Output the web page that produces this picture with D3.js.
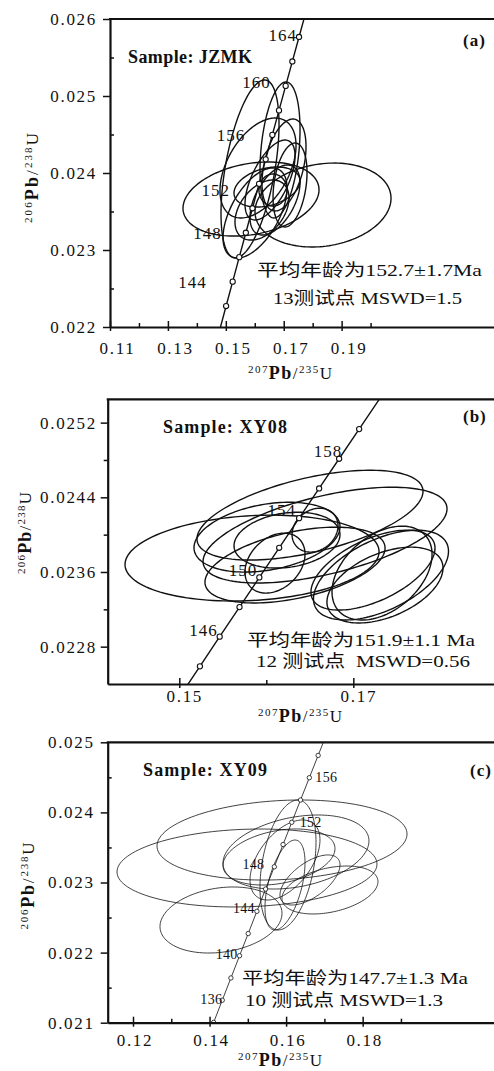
<!DOCTYPE html>
<html lang="zh">
<head>
<meta charset="utf-8">
<script src="https://d3js.org/d3.v7.min.js"></script>
<style>
body { margin: 0; background: #fff; }
svg text { font-family: "Liberation Serif", "DejaVu Serif", serif; fill: #111; }
.cn { font-family: "Liberation Serif", "Noto Sans CJK SC", serif; white-space: pre; }
.ell { fill: none; stroke: #111; }
.conc { fill: none; stroke: #111; }
.mk { fill: #fff; stroke: #111; }
</style>
</head>
<body>
<script>
// concordia, every 2 Ma (207Pb/235U, 206Pb/238U)
var concAge = [130,132,134,136,138,140,142,144,146,148,150,152,154,156,158,160,162,164,166,168,170];
var concX = [0.13659,0.13883,0.14107,0.14332,0.14558,0.14784,0.15010,0.15237,0.15464,0.15692,0.15920,
             0.16148,0.16377,0.16607,0.16837,0.17067,0.17298,0.17529,0.17761,0.17993,0.18226];
var concY = [0.020371,0.020688,0.021004,0.021321,0.021638,0.021955,0.022272,0.022589,0.022907,0.023224,0.023542,
             0.023859,0.024177,0.024495,0.024813,0.025131,0.025449,0.025767,0.026085,0.026404,0.026722];

// spot ellipses: [207/235, half-width, 206/238, half-height, rho]
var ellA = [
 [0.15870,0.02349,0.023662,0.000481,0.25],
 [0.18357,0.02349,0.023584,0.000545,0.16],
 [0.15836,0.01002,0.024052,0.001156,0.50],
 [0.16872,0.00691,0.024299,0.000883,0.30],
 [0.16112,0.01313,0.024065,0.000649,0.45],
 [0.17010,0.00760,0.024104,0.000597,0.40],
 [0.17218,0.00587,0.023844,0.000545,0.30],
 [0.16009,0.01105,0.023481,0.000584,0.55],
 [0.16250,0.00933,0.023519,0.000390,0.40],
 [0.16630,0.00484,0.023779,0.000208,0.00],
 [0.16699,0.00864,0.023649,0.000455,0.50],
 [0.16423,0.01140,0.023818,0.000260,0.30],
 [0.16527,0.00864,0.023909,0.000519,0.60]
];
var ellB = [
 [0.15836,0.01460,0.023749,0.000460,0.15],
 [0.16502,0.01299,0.024209,0.000481,0.53],
 [0.16675,0.01402,0.023995,0.000513,0.55],
 [0.16008,0.00839,0.023973,0.000374,0.30],
 [0.16238,0.00609,0.023941,0.000299,0.20],
 [0.16560,0.00264,0.024048,0.000235,0.20],
 [0.16330,0.01035,0.023674,0.000406,0.45],
 [0.16100,0.00345,0.023695,0.000321,0.30],
 [0.17318,0.00776,0.023567,0.000481,0.53],
 [0.17330,0.00575,0.023588,0.000503,0.40],
 [0.17226,0.00713,0.023620,0.000428,0.55],
 [0.17364,0.00667,0.023460,0.000406,0.45]
];
var ellC = [
 [0.15893,0.03266,0.023606,0.000571,0.15],
 [0.14978,0.03396,0.023207,0.000556,0.10],
 [0.16258,0.01907,0.023435,0.000528,0.30],
 [0.14299,0.01594,0.022465,0.000471,0.20],
 [0.16049,0.00732,0.023250,0.000927,0.35],
 [0.15971,0.00523,0.022964,0.000642,0.50],
 [0.16624,0.00784,0.023036,0.000357,0.60],
 [0.17146,0.01254,0.022893,0.000342,0.35],
 [0.15814,0.01463,0.023364,0.000400,0.30],
 [0.15971,0.00914,0.023321,0.000571,0.50]
];

var markA = [142,144,146,148,150,152,154,156,158,160,162,164];
var markB = [144,146,148,150,152,154,156,158,160];
var markC = [134,136,138,140,142,144,146,148,150,152,154,156,158];
var labA = [164,160,156,152,148,144];
var labB = [158,154,150,146];
var labC = [156,152,148,144,140,136];

var xDomA = [0.11,0.2447],    yDomA = [0.022,0.026];
var xDomB = [0.14177,0.18686], yDomB = [0.0224,0.02545];
var xDomC = [0.11339,0.21588], yDomC = [0.021,0.025];

var xTickA = [0.11,0.13,0.15,0.17,0.19], xMinA = [0.12,0.14,0.16,0.18,0.20];
var yTickA = [0.022,0.023,0.024,0.025,0.026], yMinA = [0.0225,0.0235,0.0245,0.0255];
var xTickB = [0.15,0.17], xMinB = [0.16];
var yTickB = [0.0228,0.0236,0.0244,0.0252], yMinB = [0.0232,0.0240,0.0248];
var xTickC = [0.12,0.14,0.16,0.18], xMinC = [0.13,0.15,0.17,0.19];
var yTickC = [0.021,0.022,0.023,0.024,0.025], yMinC = [0.0215,0.0225,0.0235,0.0245];

var sampleNames = ["Sample: JZMK","Sample: XY08","Sample: XY09"];
var ageText = ["平均年龄为152.7±1.7Ma","平均年龄为151.9±1.1 Ma","平均年龄为147.7±1.3 Ma"];
var spotText = ["13测试点 MSWD=1.5","12 测试点  MSWD=0.56","10 测试点 MSWD=1.3"];

var serif = '"Liberation Serif", "DejaVu Serif", serif';

var svg = d3.select("body").append("svg")
    .attr("width", 494)
    .attr("height", 1071);

var panels = [
  {id:"a", ell:ellA, mark:markA, lab:labA, xDom:xDomA, yDom:yDomA,
   xT:xTickA, xM:xMinA, yT:yTickA, yM:yMinA, xFmt:".2f", yFmt:".3f",
   l:110, t:19, b:327, xdx:7, xpad:11, ypad:6, yMinIn:true,
   labOff:[[-2,4,"end"],[-15,2,"end"],[-27,6,"end"],[-29,12,"end"],[-24,6,"end"],[-26,6,"end"]],
   labSize:17, ew:1.4, r:2.6,
   sample:[128,63,124], letter:[463,46], t1:[257,276,225], t2:[273,304,189],
   ytitle:[38,178,90], xtitle:[290,379,84]},
  {id:"b", ell:ellB, mark:markB, lab:labB, xDom:xDomB, yDom:yDomB,
   xT:xTickB, xM:xMinB, yT:yTickB, yM:yMinB, xFmt:".2f", yFmt:".4f",
   l:107.7, t:399.3, b:684, xdx:5, xpad:2, ypad:3.7, yMinIn:false,
   labOff:[[3,-2,"end"],[-3,-2,"end"],[-2,-1,"end"],[-2,-1,"end"]],
   labSize:17, ew:1.4, r:2.6,
   sample:[163,433,124], letter:[463,422], t1:[247,646,228], t2:[256,667,214],
   ytitle:[31,533,82], xtitle:[300,722,84]},
  {id:"c", ell:ellC, mark:markC, lab:labC, xDom:xDomC, yDom:yDomC,
   xT:xTickC, xM:xMinC, yT:yTickC, yM:yMinC, xFmt:".2f", yFmt:".3f",
   l:107.7, t:742.3, b:1022.7, xdx:1.5, xpad:7.3, ypad:6, yMinIn:true,
   labOff:[[6,4,"start"],[8,5,"start"],[-10,2,"end"],[-2,2,"end"],[-2,3,"end"],[0,4,"end"]],
   labSize:14, ew:0.8, r:2.2,
   sample:[143,776,124], letter:[470,776], t1:[242,984,226], t2:[245,1006,198],
   ytitle:[34,886,87], xtitle:[280,1066,84]}
];

panels.forEach(function(p, pi) {
  var x = d3.scaleLinear().domain(p.xDom).range([p.l, 500]);
  var y = d3.scaleLinear().domain(p.yDom).range([p.b, p.t]);

  svg.append("clipPath").attr("id", "clip" + p.id)
    .append("rect")
    .attr("x", p.l).attr("y", p.t)
    .attr("width", 500 - p.l).attr("height", p.b - p.t);

  var plot = svg.append("g").attr("clip-path", "url(#clip" + p.id + ")");

  var ellLine = d3.line()
      .x(function(d) { return x(d[0]); })
      .y(function(d) { return y(d[1]); })
      .curve(d3.curveLinearClosed);

  function ellPts(e) {
    var pts = [], k = Math.sqrt(1 - e[4] * e[4]);
    for (var i = 0; i < 140; i++) {
      var a = i / 140 * 2 * Math.PI;
      pts.push([e[0] + e[1] * Math.cos(a), e[2] + e[3] * (e[4] * Math.cos(a) + k * Math.sin(a))]);
    }
    return pts;
  }

  plot.selectAll(".ell").data(p.ell).enter().append("path")
    .attr("class", "ell")
    .attr("stroke-width", p.ew)
    .attr("d", function(e) { return ellLine(ellPts(e)); });

  var concLine = d3.line()
      .x(function(d, i) { return x(concX[i]); })
      .y(function(d, i) { return y(concY[i]); });

  plot.append("path")
    .datum(concAge)
    .attr("class", "conc")
    .attr("stroke-width", p.ew)
    .attr("d", concLine);

  plot.selectAll(".mk").data(p.mark).enter().append("circle")
    .attr("class", "mk")
    .attr("stroke-width", p.id == "c" ? 0.8 : 1.1)
    .attr("r", p.r)
    .attr("cx", function(a) { return x(concX[concAge.indexOf(a)]); })
    .attr("cy", function(a) { return y(concY[concAge.indexOf(a)]); });

  svg.selectAll(".lab" + p.id).data(p.lab).enter().append("text")
    .attr("class", "lab" + p.id)
    .attr("font-size", p.labSize)
    .attr("letter-spacing", p.id == "c" ? 0.3 : 1)
    .attr("text-anchor", function(a, i) { return p.labOff[i][2]; })
    .attr("x", function(a, i) { return x(concX[concAge.indexOf(a)]) + p.labOff[i][0]; })
    .attr("y", function(a, i) { return y(concY[concAge.indexOf(a)]) + p.labOff[i][1]; })
    .text(function(a) { return a; });

  // axes
  var xg = svg.append("g").attr("transform", "translate(0," + p.b + ")")
    .call(d3.axisBottom(x).tickValues(p.xT).tickSize(4).tickSizeOuter(0)
      .tickPadding(p.xpad).tickFormat(d3.format(p.xFmt)));
  xg.selectAll("text").attr("dx", p.xdx);

  var xg2 = svg.append("g").attr("transform", "translate(0," + p.b + ")")
    .call(d3.axisBottom(x).tickValues(p.xT).tickSize(-6).tickFormat(""));
  var xg3 = svg.append("g").attr("transform", "translate(0," + p.b + ")")
    .call(d3.axisBottom(x).tickValues(p.xM).tickSize(-4).tickFormat(""));

  var yg = svg.append("g").attr("transform", "translate(" + p.l + ",0)")
    .call(d3.axisLeft(y).tickValues(p.yT).tickSize(7).tickSizeOuter(0)
      .tickPadding(p.ypad).tickFormat(d3.format(p.yFmt)));
  var yg2 = svg.append("g").attr("transform", "translate(" + p.l + ",0)")
    .call(d3.axisLeft(y).tickValues(p.yM).tickSize(p.yMinIn ? -4 : 4).tickFormat(""));

  [xg2, xg3, yg2].forEach(function(g) { g.select(".domain").remove(); });
  [xg, xg2, xg3, yg, yg2].forEach(function(g) {
    g.attr("font-family", serif).attr("font-size", 17);
    g.selectAll("text").attr("letter-spacing", 1.7).attr("fill", "#111");
    g.selectAll("line").attr("stroke", "#111").attr("stroke-width", 1.5);
    g.select(".domain").attr("stroke", "#111").attr("stroke-width", 2.2);
  });

  svg.append("line")
    .attr("x1", p.l - 1).attr("x2", 500)
    .attr("y1", p.t).attr("y2", p.t)
    .attr("stroke", "#111").attr("stroke-width", 2.2);

  // texts
  svg.append("text")
    .attr("x", p.sample[0]).attr("y", p.sample[1])
    .attr("font-size", 18).attr("font-weight", "bold")
    .attr("textLength", p.sample[2])
    .text(sampleNames[pi]);

  svg.append("text")
    .attr("x", p.letter[0]).attr("y", p.letter[1])
    .attr("font-size", 17).attr("font-weight", "bold")
    .attr("letter-spacing", 1)
    .text("(" + p.id + ")");

  svg.append("text").attr("class", "cn")
    .attr("x", p.t1[0]).attr("y", p.t1[1])
    .attr("font-size", 17)
    .attr("textLength", p.t1[2]).attr("lengthAdjust", "spacingAndGlyphs")
    .text(ageText[pi]);

  svg.append("text").attr("class", "cn")
    .attr("x", p.t2[0]).attr("y", p.t2[1])
    .attr("font-size", 17)
    .attr("textLength", p.t2[2]).attr("lengthAdjust", "spacingAndGlyphs")
    .text(spotText[pi]);

  var yt = svg.append("text")
    .attr("transform", "translate(" + p.ytitle[0] + "," + p.ytitle[1] + ") rotate(-90)")
    .attr("text-anchor", "middle")
    .attr("font-size", 17)
    .attr("textLength", p.ytitle[2]);
  ratioTitle(yt, "206", "238", "U");

  var xt = svg.append("text")
    .attr("x", p.xtitle[0]).attr("y", p.xtitle[1])
    .attr("text-anchor", "middle")
    .attr("font-size", 17)
    .attr("textLength", p.xtitle[2]);
  ratioTitle(xt, "207", "235", "U");
});

function ratioTitle(t, a, b, u) {
  t.append("tspan").attr("font-size", 11).attr("dy", -6).text(a);
  t.append("tspan").attr("font-size", 18).attr("font-weight", "bold").attr("dy", 6).text("Pb");
  t.append("tspan").text("/");
  t.append("tspan").attr("font-size", 11).attr("dy", -6).text(b);
  t.append("tspan").attr("dy", 6).text(u);
}
</script>
</body>
</html>
